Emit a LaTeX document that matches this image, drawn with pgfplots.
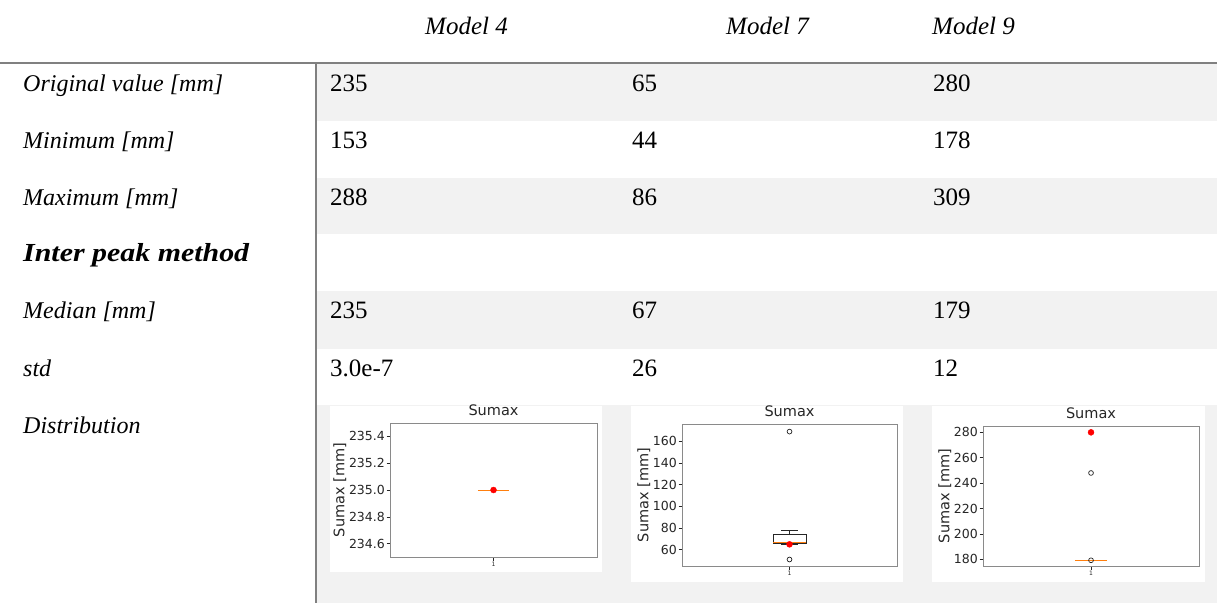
\documentclass[border=0pt]{standalone}
\usepackage{fontspec}
\setmainfont{Liberation Serif}
\newfontfamily\dejavu{DejaVu Sans}
\usepackage{pgfplots}
\pgfplotsset{compat=1.18}

\definecolor{rowgray}{HTML}{F2F2F2}
\definecolor{rulegray}{HTML}{808080}
\definecolor{mplorange}{HTML}{FF7F0E}
\definecolor{mplframe}{HTML}{8A8A8A}
\definecolor{mpltext}{HTML}{262626}

\newcommand\cellfont{\fontsize{25bp}{30bp}\selectfont}
\newcommand\labelfont{\fontsize{24bp}{29bp}\selectfont}

\pgfplotsset{
  sumax/.style={
    scale only axis,
    anchor=south west,
    xmin=0.5, xmax=1.5,
    xtick={1}, xticklabels={1},
    tick align=outside, tick pos=left,
    major tick length=3.5bp,
    axis line style={mplframe, line width=0.8bp},
    every tick/.style={mpltext, line width=0.6bp},
    title={Sumax},
    title style={font=\dejavu\fontsize{14.5bp}{14.5bp}\selectfont, text=mpltext, inner sep=1bp, anchor=south, at={(0.5,1)}},
    ylabel={Sumax [mm]},
    ylabel style={font=\dejavu\fontsize{14.5bp}{14.5bp}\selectfont, text=mpltext, inner sep=1bp},
    yticklabel style={font=\dejavu\fontsize{12.5bp}{12.5bp}\selectfont, text=mpltext, inner sep=1.5bp},
    xticklabel style={font=\dejavu\fontsize{6bp}{6bp}\selectfont, text=mpltext, inner sep=1.5bp},
    /pgf/number format/assume math mode=true,
  },
  boxline/.style={mpltext, line width=0.7bp, mark=none},
  flier/.style={only marks, mpltext, mark=o, mark size=2.4bp, mark options={line width=0.7bp, fill=none}},
  medianline/.style={mplorange, line width=1bp, mark=none},
  origval/.style={only marks, mark=*, mark size=3bp, color=red, mark options={fill=red, draw=red}},
}

\begin{document}
\begin{tikzpicture}[x=1bp, y=1bp]
\useasboundingbox (0,0) rectangle (1217,-603);

% shaded rows of the value columns
\fill[rowgray] (317,-64) rectangle (1217,-120.7);
\fill[rowgray] (317,-178) rectangle (1217,-234.5);
\fill[rowgray] (317,-291) rectangle (1217,-348.5);
\fill[rowgray] (317,-405) rectangle (1217,-603);

% white backgrounds of the distribution plots
\fill[white] (330,-406) rectangle (602,-572);
\fill[white] (631,-406) rectangle (903,-582);
\fill[white] (932,-406) rectangle (1205,-582);

% rules
\draw[rulegray, line width=2bp] (0,-63.5) -- (1217,-63.5);
\draw[rulegray, line width=2bp] (316,-63.5) -- (316,-603);

% header
\begin{scope}[every node/.style={anchor=base west, inner sep=0, font=\cellfont\itshape}]
\node at (425,-35) {Model 4};
\node at (726,-35) {Model 7};
\node at (932,-35) {Model 9};
\end{scope}

% row labels
\begin{scope}[every node/.style={anchor=base west, inner sep=0, font=\labelfont\itshape}]
\node at (23,-92) {Original value [mm]};
\node at (23,-149) {Minimum [mm]};
\node at (23,-206) {Maximum [mm]};
\node[font=\fontsize{26bp}{30bp}\selectfont\bfseries\itshape, xscale=1.15, transform shape] at (23,-262) {Inter peak method};
\node at (23,-319) {Median [mm]};
\node at (23,-376) {std};
\node at (23,-433) {Distribution};
\end{scope}

% values
\begin{scope}[every node/.style={anchor=base west, inner sep=0, font=\cellfont}]
\node at (330,-92) {235};  \node at (632,-92) {65};  \node at (933,-92) {280};
\node at (330,-149) {153}; \node at (632,-149) {44}; \node at (933,-149) {178};
\node at (330,-206) {288}; \node at (632,-206) {86}; \node at (933,-206) {309};
\node at (330,-319) {235}; \node at (632,-319) {67}; \node at (933,-319) {179};
\node at (330,-376) {3.0e-7}; \node at (632,-376) {26}; \node at (933,-376) {12};
\end{scope}

% Model 4: every run gives 235, so the box collapses onto its median
\begin{axis}[sumax, at={(390bp,-557bp)}, width=207bp, height=134bp,
  ymin=234.5, ymax=235.5,
  ytick={234.6,234.8,235.0,235.2,235.4},
  yticklabels={234.6,234.8,235.0,235.2,235.4}]
\addplot[medianline] coordinates {(0.925,235) (1.075,235)};
\addplot[origval] coordinates {(1,235)};
\end{axis}

% Model 7: box 66--74, median 67, whiskers 65--77.5, outliers 51 and 169
\begin{axis}[sumax, at={(682bp,-566bp)}, width=215bp, height=142bp,
  ymin=45, ymax=176,
  ytick={60,80,100,120,140,160}]
\addplot[boxline] coordinates {(0.9235,66) (1.0765,66) (1.0765,74) (0.9235,74) (0.9235,66)};
\addplot[boxline] coordinates {(1,74) (1,77.5)};
\addplot[boxline] coordinates {(0.9615,77.5) (1.0385,77.5)};
\addplot[boxline] coordinates {(1,66) (1,65)};
\addplot[boxline] coordinates {(0.9615,65) (1.0385,65)};
\addplot[medianline] coordinates {(0.9235,67) (1.0765,67)};
\addplot[flier] coordinates {(1,51) (1,169)};
\addplot[origval] coordinates {(1,65)};
\end{axis}

% Model 9: box collapses onto the median, two outlying runs
\begin{axis}[sumax, at={(983bp,-566bp)}, width=216bp, height=140bp,
  ymin=174.7, ymax=285,
  ytick={180,200,220,240,260,280}]
\addplot[medianline] coordinates {(0.925,179) (1.075,179)};
\addplot[flier] coordinates {(1,179.2) (1,248)};
\addplot[origval] coordinates {(1,280)};
\end{axis}
\end{tikzpicture}
\end{document}
